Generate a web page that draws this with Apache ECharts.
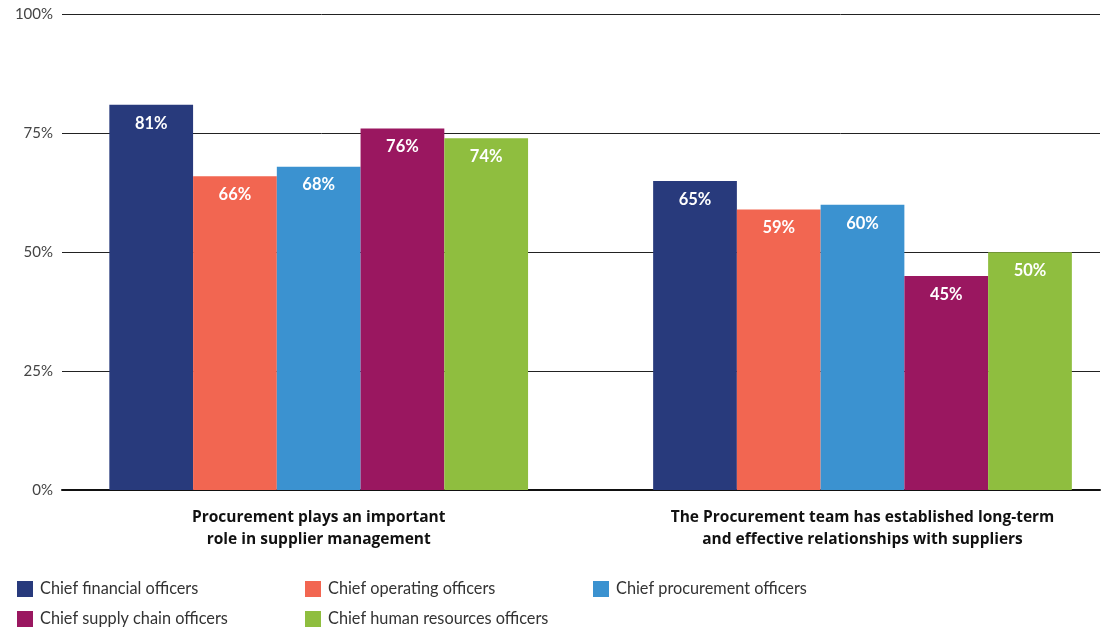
<!DOCTYPE html>
<html>
<head>
<meta charset="utf-8">
<script src="https://cdn.jsdelivr.net/npm/echarts@6/dist/echarts.min.js"></script>
<style>
  html, body { margin: 0; padding: 0; background: #ffffff; }
  #chart { width: 1103px; height: 631px; }
</style>
</head>
<body>
<div id="chart"></div>
<script>
// Survey statements (x categories)
const categories = [
  'Procurement plays an important\nrole in supplier management',
  'The Procurement team has established long-term\nand effective relationships with suppliers'
];

// Share of respondents agreeing, by role (%)
const chiefFinancial = [81, 65];
const chiefOperating = [66, 59];
const chiefProcurement = [68, 60];
const chiefSupplyChain = [76, 45];
const chiefHumanResources = [74, 50];

const seriesNames = [
  'Chief financial officers',
  'Chief operating officers',
  'Chief procurement officers',
  'Chief supply chain officers',
  'Chief human resources officers'
];
const seriesValues = [chiefFinancial, chiefOperating, chiefProcurement, chiefSupplyChain, chiefHumanResources];
const seriesColors = ['#283a7c', '#f26651', '#3b92d0', '#9a1760', '#8fbe3f'];

const yTicks = [0, 25, 50, 75, 100];

const FONT = 'Lato, "Open Sans", sans-serif';
const TOP = 14.5;
const BOTTOM = 141;

const chart = echarts.init(document.getElementById('chart'), null, { renderer: 'canvas' });

// legend laid out as a 3-column grid, one legend per entry
const legendSlots = [[17, 581], [305, 581], [593, 581], [17, 611], [305, 611]];
const legends = seriesNames.map((name, i) => ({
  left: legendSlots[i][0], top: legendSlots[i][1], padding: 0,
  itemWidth: 16, itemHeight: 16, icon: 'rect', selectedMode: false,
  textStyle: { fontFamily: FONT, fontSize: 16.3, color: '#333333', padding: [0, 0, 0, 2] },
  data: [name]
}));

const option = {
  animation: false,
  backgroundColor: '#ffffff',
  legend: legends,
  grid: [
    // axis frame: tick labels, grid lines and baseline
    { left: 62, right: 3, top: TOP, bottom: BOTTOM, outerBoundsMode: 'none', containLabel: false },
    // bar area
    { left: 46.8, width: 1087.6, top: TOP, bottom: BOTTOM, outerBoundsMode: 'none', containLabel: false }
  ],
  xAxis: [
    {
      gridIndex: 0, type: 'category', data: categories,
      axisLine: { show: true, lineStyle: { color: '#111111', width: 2 } },
      axisTick: { show: false }, axisLabel: { show: false }, splitLine: { show: false }
    },
    {
      gridIndex: 1, type: 'category', data: categories,
      axisLine: { show: false }, axisTick: { show: false },
      axisLabel: {
        margin: 17, interval: 0, fontFamily: '"Open Sans", Lato, sans-serif', fontSize: 15.5,
        fontWeight: 'bold', color: '#111111', lineHeight: 22, align: 'center'
      }
    }
  ],
  yAxis: [
    {
      gridIndex: 0, type: 'value', min: yTicks[0], max: yTicks[yTicks.length - 1], interval: 25,
      axisLine: { show: false }, axisTick: { show: false },
      axisLabel: { formatter: '{value}%', margin: 9, fontFamily: FONT, fontSize: 15, color: '#444444' },
      splitLine: { show: true, lineStyle: { color: '#222222', width: 1 } }
    },
    {
      gridIndex: 1, type: 'value', min: yTicks[0], max: yTicks[yTicks.length - 1], interval: 25,
      show: false, splitLine: { show: false }
    }
  ],
  series: seriesNames.map((name, i) => ({
    name: name,
    type: 'bar',
    xAxisIndex: 1,
    yAxisIndex: 1,
    data: seriesValues[i],
    barGap: '0%',
    barCategoryGap: '23%',
    itemStyle: { color: seriesColors[i] },
    label: {
      show: true, position: 'insideTop', distance: 10,
      formatter: '{c}%', color: '#ffffff', fontFamily: FONT,
      fontSize: 16.5, fontWeight: 'bold'
    }
  }))
};

chart.setOption(option);
</script>
</body>
</html>
